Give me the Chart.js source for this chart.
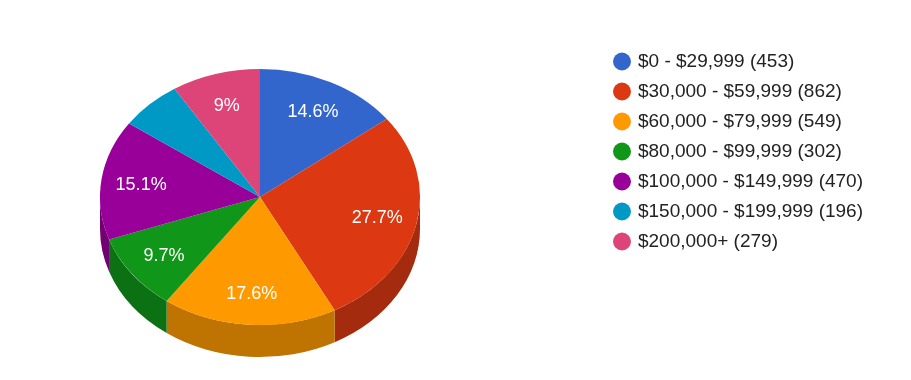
<!DOCTYPE html>
<html lang="en">
<head>
    <meta charset="UTF-8">
    <title>Household income</title>
    <script src="https://cdn.jsdelivr.net/npm/chart.js"></script>
    <style>
        html, body { margin: 0; padding: 0; background: #fff; }
        #wrap { width: 911px; height: 380px; }
    </style>
</head>
<body>
<div id="wrap"><canvas id="incomeChart"></canvas></div>
<script>
    // data
    const categories = ['$0 - $29,999', '$30,000 - $59,999', '$60,000 - $79,999', '$80,000 - $99,999',
                        '$100,000 - $149,999', '$150,000 - $199,999', '$200,000+'];
    const counts = [453, 862, 549, 302, 470, 196, 279];
    const sliceColors = ['#3366cc', '#dc3912', '#ff9900', '#109618', '#990099', '#0099c6', '#dd4477'];

    const FONT = '"Liberation Sans", Arial, sans-serif';

    // darker shade for the side of the disc
    function shade(hex, f) {
        const n = parseInt(hex.slice(1), 16);
        const r = Math.round(((n >> 16) & 255) * f);
        const g = Math.round(((n >> 8) & 255) * f);
        const b = Math.round((n & 255) * f);
        return `rgb(${r},${g},${b})`;
    }

    // fake 3d: squash the pie into an ellipse and extrude its front edge
    const pie3d = {
        id: 'pie3d',
        beforeDatasetsDraw(chart, args, opts) {
            const arcs = chart.getDatasetMeta(0).data;
            if (!arcs.length) return;
            const ctx = chart.ctx;
            const a0 = arcs[0];
            const cx = opts.center.x, cy = opts.center.y;
            const rx = a0.outerRadius, ry = rx * opts.tilt;

            // side walls, only the part facing us (angles 0..PI)
            arcs.forEach((arc, i) => {
                const s = Math.max(arc.startAngle, 0);
                const e = Math.min(arc.endAngle, Math.PI);
                if (e <= s) return;
                ctx.beginPath();
                ctx.ellipse(cx, cy, rx, ry, 0, s, e);
                ctx.ellipse(cx, cy + opts.depth, rx, ry, 0, e, s, true);
                ctx.closePath();
                ctx.fillStyle = shade(sliceColors[i], 0.75);
                ctx.fill();
            });

            // top face is drawn by chart.js under this transform
            ctx.save();
            ctx.translate(cx, cy);
            ctx.scale(1, opts.tilt);
            ctx.translate(-a0.x, -a0.y);
        },
        afterDatasetsDraw(chart, args, opts) {
            const arcs = chart.getDatasetMeta(0).data;
            if (!arcs.length) return;
            const ctx = chart.ctx;
            ctx.restore();

            const total = counts.reduce((a, b) => a + b, 0);
            const cx = opts.center.x, cy = opts.center.y;
            const rx = arcs[0].outerRadius;
            ctx.save();
            ctx.fillStyle = '#ffffff';
            ctx.font = `${opts.labelSize}px ${FONT}`;
            ctx.textAlign = 'center';
            ctx.textBaseline = 'middle';
            arcs.forEach((arc, i) => {
                const pct = counts[i] / total * 100;
                if (pct < opts.minPct) return;
                const mid = (arc.startAngle + arc.endAngle) / 2;
                const r = rx * opts.labelRadius;
                const x = cx + Math.cos(mid) * r;
                const y = cy + Math.sin(mid) * r * opts.tilt + 1;
                ctx.fillText(Math.round(pct * 10) / 10 + '%', x, y);
            });
            ctx.restore();
        }
    };

    const ctx = document.getElementById('incomeChart').getContext('2d');
    const incomeChart = new Chart(ctx, {
        type: 'pie',
        data: {
            labels: categories,
            datasets: [{
                data: counts,
                backgroundColor: sliceColors,
                borderWidth: 0,
                radius: 160,
                clip: false
            }]
        },
        options: {
            responsive: true,
            maintainAspectRatio: false,
            animation: false,
            layout: {
                padding: { top: 41, right: 38, bottom: 0, left: 0 }
            },
            plugins: {
                tooltip: { enabled: false },
                legend: {
                    position: 'right',
                    align: 'start',
                    labels: {
                        usePointStyle: true,
                        pointStyle: 'circle',
                        boxWidth: 13,
                        boxHeight: 12.7,
                        padding: 11,
                        color: '#222222',
                        font: { family: FONT, size: 19 },
                        generateLabels(chart) {
                            const items = Chart.overrides.pie.plugins.legend.labels.generateLabels(chart);
                            items.forEach((it, i) => {
                                it.text = `${categories[i]} (${counts[i]})`;
                                it.lineWidth = 0;
                            });
                            return items;
                        }
                    }
                },
                pie3d: {
                    center: { x: 260, y: 197 },
                    tilt: 0.8,
                    depth: 32,
                    labelRadius: 0.75,
                    labelSize: 18,
                    minPct: 7
                }
            }
        },
        plugins: [pie3d]
    });
</script>
</body>
</html>
